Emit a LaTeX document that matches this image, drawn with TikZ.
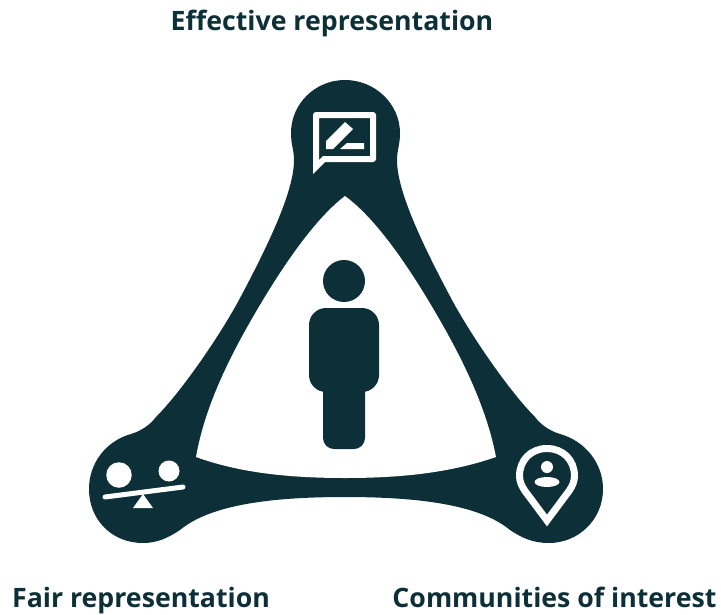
\documentclass[tikz,border=0pt]{standalone}
\usepackage{fontspec}
\setmainfont{Open Sans}
\definecolor{bandcol}{HTML}{0D3038}
\tikzset{
  lbl/.style={text=bandcol, font=\fontsize{26.7}{30}\selectfont\bfseries, inner sep=0pt, anchor=base},
  band/.style={fill=bandcol, draw=none},
  glyph/.style={fill=white, draw=none},
  glyphline/.style={draw=white, line width=7pt, line join=miter},
}
\begin{document}
\begin{tikzpicture}[x=1pt,y=-1pt]
\useasboundingbox (0,0) rectangle (721,614);
\fill[white] (0,0) rectangle (721,614);
% band
\fill[band] (345,80) .. controls (375,80) and (400,104) .. (400,133)
  .. controls (400,145) and (397,150) .. (397,160)
  .. controls (397,190) and (420,240) .. (452,300)
  .. controls (472,337) and (510,392) .. (535,417)
  .. controls (541,425) and (550,431) .. (560,434)
  .. controls (585,441) and (603,463) .. (603,489)
  .. controls (603,520) and (578,543) .. (549,543)
  .. controls (533,543) and (522,538) .. (510,530)
  .. controls (480,505) and (420,497) .. (345,497)
  .. controls (270,497) and (210,505) .. (180,530)
  .. controls (168,538) and (157,543) .. (143,543)
  .. controls (112,543) and (89,520) .. (89,489)
  .. controls (89,463) and (106,441) .. (131,434)
  .. controls (141,431) and (150,425) .. (156,417)
  .. controls (181,392) and (219,337) .. (239,300)
  .. controls (271,240) and (294,190) .. (294,160)
  .. controls (294,150) and (291,145) .. (291,133)
  .. controls (291,104) and (315,80) .. (345,80) -- cycle;
\fill[glyph] (345,196) .. controls (375,218) and (405,262) .. (428,300)
  .. controls (455,345) and (485,400) .. (496,457)
  .. controls (450,473) and (400,478) .. (345,478)
  .. controls (290,478) and (240,473) .. (196,457)
  .. controls (206,400) and (236,345) .. (263,300)
  .. controls (286,262) and (316,218) .. (345,196) -- cycle;
% person
\node[circle, band, minimum size=42pt, inner sep=0pt] (head) at (344,281){};
\fill[band, rounded corners=17pt] (309,308) rectangle (379,392);
\fill[band, rounded corners=11pt] (323,380) rectangle (365,449);
% speech bubble
\fill[glyph, even odd rule] (313,174) [rounded corners=3pt] -- (313,112) -- (376,112) -- (376,162) [sharp corners] -- (325,162) -- cycle
  (319,118) -- (370,118) -- (370,156) -- (323,156) -- (319,160) -- cycle;
\fill[glyph] (345,122) -- (353,129) -- (333,149) -- (326,149) -- (326,141) -- cycle;
\fill[glyph] (340,149) -- (347,143) -- (364,143) -- (364,149) -- cycle;
% scale
\node[circle, glyph, minimum size=25.5pt, inner sep=0pt] (panl) at (119,475){};
\node[circle, glyph, minimum size=21pt, inner sep=0pt] (panr) at (169,471){};
\coordinate (beaml) at (105,497);
\coordinate (beamr) at (183,487);
\draw[white, line width=5pt, line cap=round] (beaml) -- (beamr);
\fill[glyph] (143,494) -- (153,508) -- (133,508) -- cycle;
% pin
\draw[glyphline] (547,520.5) -- (525,491) .. controls (521.5,486) and (519.5,481) .. (519.5,476)
  .. controls (519.5,460) and (531,448.5) .. (547,448.5)
  .. controls (563,448.5) and (574.5,460) .. (574.5,476)
  .. controls (574.5,481) and (572.5,486) .. (569,491) -- cycle;
\node[circle, glyph, minimum size=12pt, inner sep=0pt] (pinhead) at (547,467){};
\fill[glyph] (547,482) ellipse [x radius=12.5, y radius=5];
% labels
\node[lbl] (eff) at (332,30){Effective representation};
\node[lbl] (fair) at (141,607){Fair representation};
\node[lbl] (comm) at (554.5,607){Communities of interest};
\end{tikzpicture}
\end{document}
